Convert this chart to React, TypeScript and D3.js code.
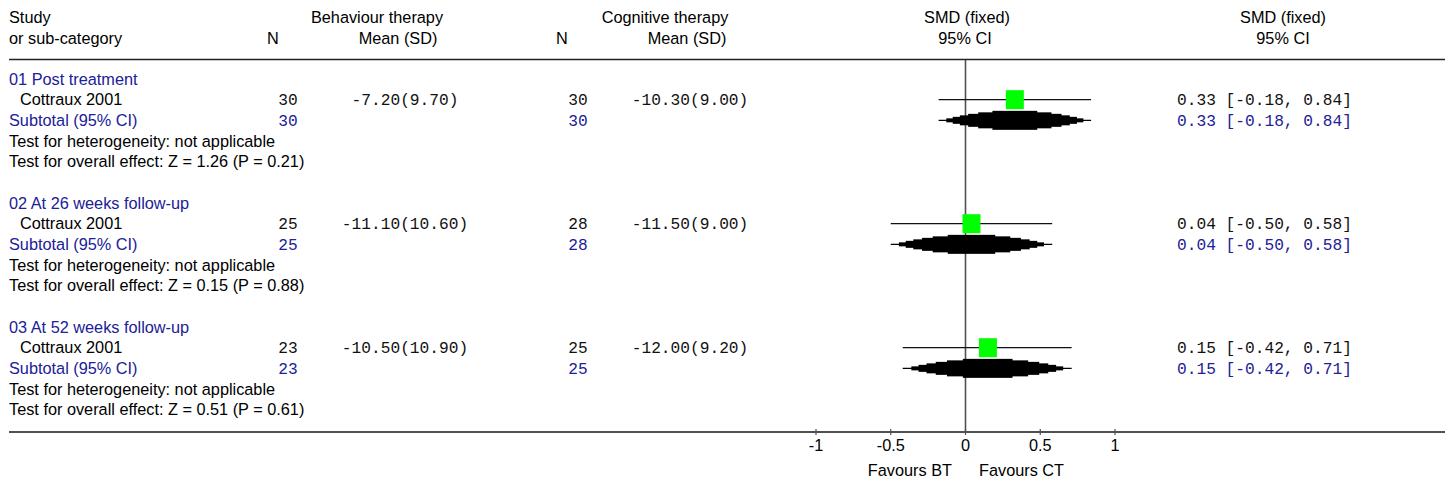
import React from "react";
import * as d3 from "d3";

const groupNames = ["01 Post treatment", "02 At 26 weeks follow-up", "03 At 52 weeks follow-up"];
const studyNames = ["Cottraux 2001", "Cottraux 2001", "Cottraux 2001"];
const btN = [30, 25, 23];
const btMean = [-7.2, -11.1, -10.5];
const btSD = [9.7, 10.6, 10.9];
const ctN = [30, 28, 25];
const ctMean = [-10.3, -11.5, -12.0];
const ctSD = [9.0, 9.0, 9.2];
const smd = [0.33, 0.04, 0.15];
const ciLo = [-0.18, -0.5, -0.42];
const ciHi = [0.84, 0.58, 0.71];
const zStat = [1.26, 0.15, 0.51];
const pVal = [0.21, 0.88, 0.61];
const axisTicks = [-1, -0.5, 0, 0.5, 1];
const favourLeft = "Favours BT";
const favourRight = "Favours CT";

const W = 1452;
const H = 484;
const SANS = "'Liberation Sans', Arial, sans-serif";
const MONO = "'Liberation Mono', 'Courier New', monospace";
const BLUE = "#202098";
const BLACK = "#000";
const SANS_SIZE = 16.3;
const MONO_SIZE = 16.2;

const x = d3.scaleLinear().domain([-1, 1]).range([816, 1115]);
const rowY = d3.scaleLinear().domain([0, 16]).range([79, 409.7]);

const f2 = (v: number) => v.toFixed(2);
const ms = (m: number, s: number) => `${f2(m)}(${f2(s)})`;
const ciText = (i: number) => `${f2(smd[i])} [${f2(ciLo[i])}, ${f2(ciHi[i])}]`;

// stepped lens-shaped summary diamond levels (half-heights)
const lensLevels = [2, 3.5, 5, 6.5, 8, 9.5];

export default function App() {
  const sansTxt = (t: string, tx: number, ty: number, opts: any = {}) => (
    <text
      x={tx}
      y={ty}
      dy="0.35em"
      fontFamily={SANS}
      fontSize={SANS_SIZE}
      fill={opts.fill || BLACK}
      textAnchor={opts.anchor || "start"}
    >
      {t}
    </text>
  );
  const monoTxt = (t: string, tx: number, ty: number, opts: any = {}) => (
    <text
      x={tx}
      y={ty}
      dy="0.35em"
      fontFamily={MONO}
      fontSize={MONO_SIZE}
      fill={opts.fill || "#111"}
      textAnchor={opts.anchor || "start"}
    >
      {t}
    </text>
  );

  const axisY = 432;
  const sq = 18;

  const lens = (i: number, yT: number) => {
    const cx = x(smd[i]);
    const lw = cx - x(ciLo[i]);
    const rw = x(ciHi[i]) - cx;
    return lensLevels.map((h, k) => {
      const d = Math.sqrt(1 - h / 10.4);
      const x0 = cx - d * lw;
      const x1 = cx + d * rw;
      return <rect key={k} x={x0} y={yT - h} width={x1 - x0} height={2 * h} fill="#000" />;
    });
  };

  return (
    <svg
      width={W}
      height={H}
      style={{ position: "absolute", left: 0, top: 0, background: "#fff" }}
    >
      <rect x={0} y={0} width={W} height={H} fill="#fff" />
      {/* headers */}
      {sansTxt("Study", 9, 17)}
      {sansTxt("or sub-category", 9, 38)}
      {sansTxt("Behaviour therapy", 377, 17, { anchor: "middle" })}
      {sansTxt("N", 273, 38, { anchor: "middle" })}
      {sansTxt("Mean (SD)", 398, 38, { anchor: "middle" })}
      {sansTxt("Cognitive therapy", 665, 17, { anchor: "middle" })}
      {sansTxt("N", 562, 38, { anchor: "middle" })}
      {sansTxt("Mean (SD)", 687, 38, { anchor: "middle" })}
      {sansTxt("SMD (fixed)", 967, 17, { anchor: "middle" })}
      {sansTxt("95% CI", 965, 38, { anchor: "middle" })}
      {sansTxt("SMD (fixed)", 1283, 17, { anchor: "middle" })}
      {sansTxt("95% CI", 1283, 38, { anchor: "middle" })}
      <line x1={9} x2={1445} y1={59.5} y2={59.5} stroke="#222" strokeWidth={1.6} />

      {/* zero line */}
      <line x1={x(0)} x2={x(0)} y1={60} y2={axisY} stroke="#505050" strokeWidth={1.6} />

      {groupNames.map((g, i) => {
        const base = i * 6;
        const yS = rowY(base + 1);
        const yT = rowY(base + 2);
        const cx = x(smd[i]);
        return (
          <g key={i}>
            {sansTxt(g, 9, rowY(base), { fill: BLUE })}
            {sansTxt(studyNames[i], 20, yS)}
            {monoTxt(String(btN[i]), 288, yS, { anchor: "middle" })}
            {monoTxt(ms(btMean[i], btSD[i]), 405, yS, { anchor: "middle" })}
            {monoTxt(String(ctN[i]), 578, yS, { anchor: "middle" })}
            {monoTxt(ms(ctMean[i], ctSD[i]), 690, yS, { anchor: "middle" })}
            {monoTxt(ciText(i), 1177, yS)}
            {/* study CI line and square */}
            <line x1={x(ciLo[i])} x2={x(ciHi[i])} y1={yS} y2={yS} stroke="#111" strokeWidth={1.3} />
            <rect x={cx - sq / 2} y={yS - sq / 2 - 0.5} width={sq} height={sq + 1} fill="#00ff00" />

            {sansTxt("Subtotal (95% CI)", 9, yT, { fill: BLUE })}
            {monoTxt(String(btN[i]), 288, yT, { anchor: "middle", fill: BLUE })}
            {monoTxt(String(ctN[i]), 578, yT, { anchor: "middle", fill: BLUE })}
            {monoTxt(ciText(i), 1177, yT, { fill: BLUE })}
            <line x1={x(ciLo[i])} x2={x(ciHi[i])} y1={yT} y2={yT} stroke="#000" strokeWidth={1.3} />
            {lens(i, yT)}

            {sansTxt("Test for heterogeneity: not applicable", 9, rowY(base + 3))}
            {sansTxt(
              `Test for overall effect: Z = ${f2(zStat[i])} (P = ${f2(pVal[i])})`,
              9,
              rowY(base + 4)
            )}
          </g>
        );
      })}

      {/* axis */}
      <line x1={9} x2={1445} y1={axisY} y2={axisY} stroke="#505050" strokeWidth={2} />
      {axisTicks.map((t) => (
        <g key={t}>
          <line x1={x(t)} x2={x(t)} y1={axisY - 3} y2={axisY + 3} stroke="#505050" strokeWidth={1.2} />
          <text
            x={x(t)}
            y={445}
            dy="0.35em"
            fontFamily={SANS}
            fontSize={SANS_SIZE}
            textAnchor="middle"
            fill={BLACK}
          >
            {String(t)}
          </text>
        </g>
      ))}
      {sansTxt(favourLeft, 952, 470, { anchor: "end" })}
      {sansTxt(favourRight, 979, 470)}
    </svg>
  );
}
